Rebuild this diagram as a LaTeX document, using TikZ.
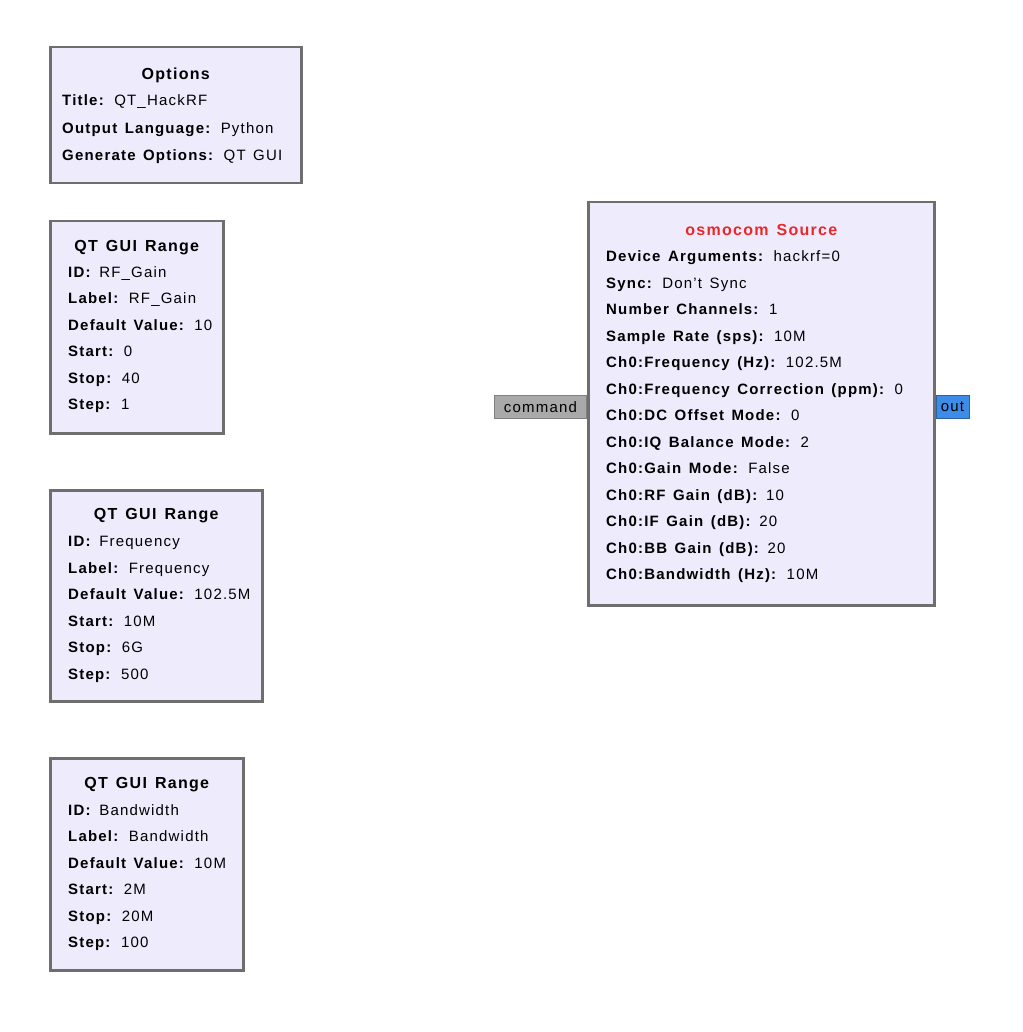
\documentclass[tikz,border=0pt]{standalone}
\usepackage{fontspec}
\setmainfont[LetterSpace=8, WordSpace=1.4]{Liberation Sans}
\usetikzlibrary{positioning}

\definecolor{blockfill}{HTML}{EEEBFC}
\definecolor{blockline}{HTML}{6E6E6E}
\definecolor{titlered}{HTML}{E8282B}
\definecolor{portgray}{HTML}{A9A9A9}
\definecolor{portblue}{HTML}{3D8CE8}

\newcommand{\prm}[2]{\textbf{#1:} #2}

\begin{document}
\begin{tikzpicture}[x=1pt, y=-1pt,
    block/.style={draw=blockline, line width=2.5pt, fill=blockfill,
      anchor=north west, inner sep=0pt},
    head/.style={font=\fontsize{16}{20}\selectfont\bfseries, inner sep=0pt},
    params/.style={font=\fontsize{15}{26.5}\selectfont, align=left,
      inner sep=0pt},
    port/.style={line width=1pt, minimum height=23pt, inner sep=1pt,
      font=\fontsize{15}{18}\selectfont}]
    \useasboundingbox (0,0) rectangle (1022,1032);

    % options
    \node[block, minimum width=251pt, minimum height=136pt] (opt) at (49,46) {};
    \node[head, below=22pt of opt.north] (optT) {Options};
    \node[params, font=\fontsize{15}{27.5}\selectfont,
      below right=48.5pt and 13pt of opt.north west] (optP)
      {\prm{Title}{QT\_HackRF}\\
       \prm{Output Language}{Python}\\
       \prm{Generate Options}{QT GUI}};

    % range: rf gain
    \node[block, minimum width=173pt, minimum height=212pt] (rf) at (49,220) {};
    \node[head, below=20pt of rf.north] (rfT) {QT GUI Range};
    \node[params, below right=46pt and 19pt of rf.north west] (rfP)
      {\prm{ID}{RF\_Gain}\\
       \prm{Label}{RF\_Gain}\\
       \prm{Default Value}{10}\\
       \prm{Start}{0}\\
       \prm{Stop}{40}\\
       \prm{Step}{1}};

    % range: frequency
    \node[block, minimum width=212pt, minimum height=211pt] (freq) at (49,489) {};
    \node[head, below=19pt of freq.north] (freqT) {QT GUI Range};
    \node[params, below right=47pt and 19pt of freq.north west] (freqP)
      {\prm{ID}{Frequency}\\
       \prm{Label}{Frequency}\\
       \prm{Default Value}{102.5M}\\
       \prm{Start}{10M}\\
       \prm{Stop}{6G}\\
       \prm{Step}{500}};

    % range: bandwidth
    \node[block, minimum width=193pt, minimum height=212pt] (bw) at (49,757) {};
    \node[head, below=20pt of bw.north] (bwT) {QT GUI Range};
    \node[params, below right=47pt and 19pt of bw.north west] (bwP)
      {\prm{ID}{Bandwidth}\\
       \prm{Label}{Bandwidth}\\
       \prm{Default Value}{10M}\\
       \prm{Start}{2M}\\
       \prm{Stop}{20M}\\
       \prm{Step}{100}};

    % osmocom source
    \node[block, minimum width=346pt, minimum height=403pt] (osmo) at (587,201) {};
    \node[head, text=titlered, below=23pt of osmo.north] (osmoT) {osmocom Source};
    \node[params, below right=49.5pt and 19pt of osmo.north west] (osmoP)
      {\prm{Device Arguments}{hackrf=0}\\
       \prm{Sync}{Don't Sync}\\
       \prm{Number Channels}{1}\\
       \prm{Sample Rate (sps)}{10M}\\
       \prm{Ch0:Frequency (Hz)}{102.5M}\\
       \prm{Ch0:Frequency Correction (ppm)}{0}\\
       \prm{Ch0:DC Offset Mode}{0}\\
       \prm{Ch0:IQ Balance Mode}{2}\\
       \prm{Ch0:Gain Mode}{False}\\
       \prm{Ch0:RF Gain (dB)}{10}\\
       \prm{Ch0:IF Gain (dB)}{20}\\
       \prm{Ch0:BB Gain (dB)}{20}\\
       \prm{Ch0:Bandwidth (Hz)}{10M}};

    % ports
    \node[port, draw=gray, fill=portgray, minimum width=92pt,
      left=0pt of osmo.west, yshift=-3pt] (command) {command};
    \node[port, draw=portblue!70!black, fill=portblue, minimum width=33pt,
      right=0pt of osmo.east, yshift=-3pt] (out) {out};
\end{tikzpicture}
\end{document}
